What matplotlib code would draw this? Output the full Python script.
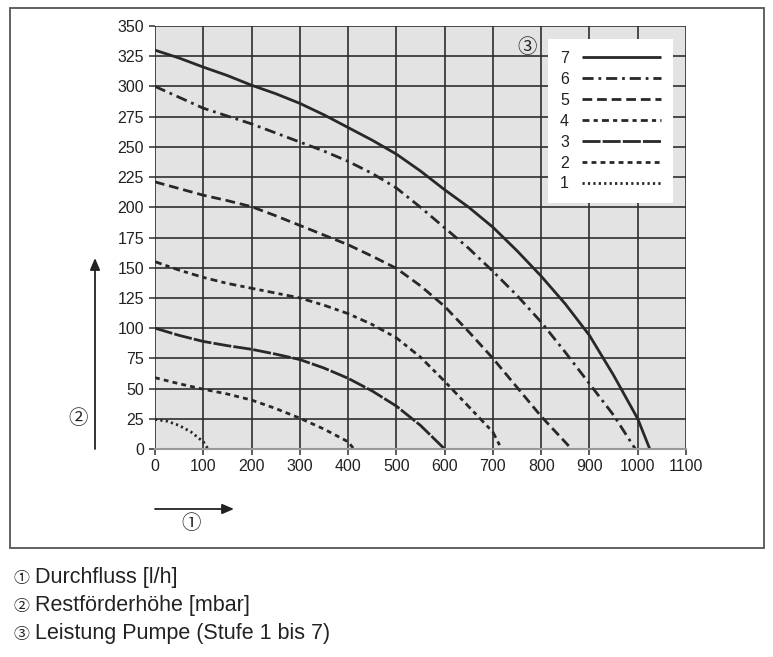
import matplotlib
matplotlib.use("Agg")
import matplotlib.pyplot as plt
from matplotlib.patches import Rectangle, FancyArrowPatch

plt.rcParams['font.family'] = ['Liberation Sans', 'Noto Sans CJK SC', 'DejaVu Sans']
plt.rcParams['lines.scale_dashes'] = False

# ---- data ----
x7 = [0, 50, 100, 150, 200, 250, 300, 350, 400, 450, 500, 550, 600, 650, 700, 750, 800, 850, 900, 950, 1000, 1025]
y7 = [330, 323.5, 316, 309, 301, 294, 286, 276.5, 266, 255.5, 244, 230, 214.5, 200, 183.5, 164, 143, 120, 94, 61, 25, 0]
x6 = [0, 50, 100, 150, 200, 250, 300, 350, 400, 450, 500, 550, 600, 650, 700, 750, 800, 850, 900, 950, 995]
y6 = [300, 291, 282, 275.5, 269, 261.5, 254, 246.5, 238, 228, 216, 200, 183, 166, 147, 127, 105, 80, 54, 28, 0]
x5 = [0, 50, 100, 150, 200, 250, 300, 350, 400, 450, 500, 550, 600, 650, 700, 750, 800, 863]
y5 = [221, 215.5, 210, 205.5, 200.5, 193, 185, 177, 169, 159.5, 149.5, 135, 118, 97, 75, 51, 27, 0]
x4 = [0, 50, 100, 150, 200, 250, 300, 350, 400, 450, 500, 550, 600, 650, 700, 718]
y4 = [155, 148, 142, 137, 133, 129, 125, 119, 112, 103, 92, 76, 56, 35, 14, 0]
x3 = [0, 50, 100, 150, 200, 250, 300, 350, 400, 450, 500, 550, 600]
y3 = [100, 94, 89, 85.5, 82.5, 78.5, 74, 67, 58.5, 48, 35.5, 19.5, 0]
x2 = [0, 50, 100, 150, 200, 250, 300, 350, 400, 412]
y2 = [59, 54, 49.5, 45.5, 40.5, 33.5, 25.5, 16.5, 6, 0]
x1 = [0, 25, 50, 75, 100, 110]
y1 = [24.5, 23, 19.5, 14, 6, 0]

stages = ['7', '6', '5', '4', '3', '2', '1']
xticks = list(range(0, 1101, 100))
yticks = list(range(0, 351, 25))
caption_marks = ['\u2460', '\u2461', '\u2462']
captions = ['Durchfluss [l/h]', 'Restförderhöhe [mbar]', 'Leistung Pumpe (Stufe 1 bis 7)']

W, H = 773, 657
fig = plt.figure(figsize=(W / 100, H / 100), dpi=100)

def fx(px):
    return px / W

def fy(py):
    return 1 - py / H

txt = '#222222'
ax = fig.add_axes([fx(155), fy(449), fx(686) - fx(155), fy(26) - fy(449)])
ax.set_facecolor('#e3e3e3')
ax.set_xlim(0, 1100)
ax.set_ylim(0, 350)
ax.set_xticks(xticks)
ax.set_yticks(yticks)
ax.grid(True, color='#2e2e2e', linewidth=1.2)
ax.set_axisbelow(True)
for s in ['left', 'top', 'right']:
    ax.spines[s].set_visible(False)
ax.spines['bottom'].set_color('#999999')
ax.spines['bottom'].set_linewidth(1.5)
ax.tick_params(axis='both', direction='out', length=4, width=1.1, color='#2e2e2e',
               labelsize=11.5, labelcolor=txt)
ax.tick_params(axis='y', pad=4)
ax.tick_params(axis='x', pad=3)

lc = '#282828'
lw = 2.0
styles = ['-', (0, (8, 3.5, 2, 3.5)), (0, (7, 3.5)), (0, (5, 3, 3, 3)),
          (0, (13, 1.5)), (0, (3.5, 3)), (0, (1.6, 2.3))]
data = [(x7, y7), (x6, y6), (x5, y5), (x4, y4), (x3, y3), (x2, y2), (x1, y1)]
for (xs, ys), lab, ls in zip(data, stages, styles):
    ax.plot(xs, ys, linestyle=ls, color=lc, linewidth=lw, label=lab,
            solid_capstyle='butt', dash_capstyle='butt', solid_joinstyle='round')

leg = ax.legend(loc='upper left', bbox_to_anchor=(fx(548), fy(39)),
                bbox_transform=fig.transFigure, markerfirst=False,
                frameon=True, fancybox=False, facecolor='white', edgecolor='none',
                framealpha=1, fontsize=11.5, handlelength=4.95, labelspacing=0.37,
                handletextpad=0.8, borderpad=0.75, borderaxespad=0)
for t in leg.get_texts():
    t.set_color(txt)

# circled markers
fig.text(fx(527), fy(48), '\u2462', fontsize=14, ha='center', va='center', color=txt)
fig.text(fx(78), fy(419), '\u2461', fontsize=14, ha='center', va='center', color=txt)
fig.text(fx(191), fy(524), '\u2460', fontsize=14, ha='center', va='center', color=txt)

# arrows
for p0, p1 in [((95, 449), (95, 258)), ((155, 509), (234, 509))]:
    fig.add_artist(FancyArrowPatch(
        (fx(p0[0]), fy(p0[1])), (fx(p1[0]), fy(p1[1])), transform=fig.transFigure,
        arrowstyle='-|>,head_length=7,head_width=3', color=txt, linewidth=1.3,
        shrinkA=0, shrinkB=0))

# frame box
fig.add_artist(Rectangle((fx(10), fy(548)), fx(764) - fx(10), fy(8) - fy(548),
                         transform=fig.transFigure, fill=False, edgecolor='#555555',
                         linewidth=1.3))

# captions
for i, (m, c) in enumerate(zip(caption_marks, captions)):
    y = fy(578 + 28 * i)
    fig.text(fx(21), y, m, fontsize=11.5, ha='center', va='center', color=txt)
    fig.text(fx(35), y, c, fontsize=15.5, ha='left', va='center', color=txt)

fig.savefig('out.png', dpi=100)
